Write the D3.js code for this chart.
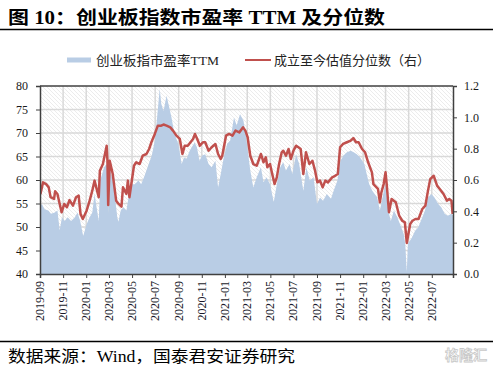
<!DOCTYPE html>
<html><head><meta charset="utf-8">
<script src="https://cdn.jsdelivr.net/npm/d3@7"></script>
<style>body{margin:0;background:#fff}svg{display:block}</style>
</head><body><svg id="c" width="493" height="369"></svg>
<script>
const titleText = "图 10：创业板指数市盈率 TTM 及分位数";
const legendNames = ["创业板指市盈率TTM", "成立至今估值分位数（右）"];
const sourceText = "数据来源：Wind，国泰君安证券研究";
const xTickLabels = ["2019-09","2019-11","2020-01","2020-03","2020-05","2020-07","2020-09","2020-11","2021-01","2021-03","2021-05","2021-07","2021-09","2021-11","2022-01","2022-03","2022-05","2022-07"];
const leftTicks = [40,45,50,55,60,65,70,75,80];
const rightTicks = [0,0.2,0.4,0.6,0.8,1.0,1.2];

const peDates = ["2019-09-02","2019-09-06","2019-09-13","2019-09-23","2019-09-30","2019-10-10","2019-10-17","2019-10-23","2019-10-29","2019-11-05","2019-11-13","2019-11-22","2019-12-02","2019-12-09","2019-12-16","2019-12-24",
"2020-01-02","2020-01-10","2020-01-17","2020-01-23","2020-02-03","2020-02-07","2020-02-17","2020-02-24","2020-02-26","2020-02-28","2020-03-03","2020-03-13","2020-03-23","2020-03-26","2020-04-01","2020-04-08","2020-04-16","2020-04-23","2020-04-30","2020-05-08","2020-05-18","2020-05-25","2020-06-03","2020-06-12","2020-06-22","2020-06-30","2020-07-06","2020-07-13","2020-07-17","2020-07-23","2020-07-31","2020-08-07","2020-08-13","2020-08-21","2020-08-31","2020-09-09","2020-09-15","2020-09-22","2020-09-30","2020-10-13","2020-10-19","2020-10-26","2020-11-02","2020-11-10","2020-11-19","2020-11-27","2020-12-07","2020-12-14","2020-12-21","2020-12-29",
"2021-01-07","2021-01-15","2021-01-25","2021-02-01","2021-02-10","2021-02-19","2021-02-26","2021-03-09","2021-03-17","2021-03-26","2021-04-06","2021-04-13","2021-04-21","2021-04-30","2021-05-10","2021-05-18","2021-05-27","2021-06-04","2021-06-11","2021-06-21","2021-06-28","2021-07-08","2021-07-16","2021-07-27","2021-08-04","2021-08-13","2021-08-23","2021-09-01","2021-09-09","2021-09-17","2021-09-27","2021-10-08","2021-10-15","2021-10-25","2021-11-02","2021-11-10","2021-11-19","2021-11-29","2021-12-07","2021-12-15","2021-12-24",
"2022-01-04","2022-01-11","2022-01-17","2022-01-25","2022-02-07","2022-02-14","2022-02-21","2022-02-28","2022-03-08","2022-03-15","2022-03-23","2022-04-01","2022-04-11","2022-04-18","2022-04-22","2022-04-26","2022-04-29","2022-05-10","2022-05-18","2022-05-26","2022-06-06","2022-06-13","2022-06-21","2022-06-30","2022-07-08","2022-07-18","2022-07-26","2022-08-04","2022-08-12","2022-08-22","2022-08-26"];
const peValues = [54.5,54.9,53.8,53.5,52.8,53.1,53.5,49.3,52.1,51.3,52.1,51.3,52.1,53.1,51.3,48.1,
50.6,52.1,53.1,57.0,51.3,59.9,62.7,63.4,62.0,52.8,62.7,59.1,52.1,51.1,53.5,54.2,53.5,57.0,59.1,59.1,59.9,59.1,60.9,63.0,65.2,68.4,73.3,79.4,76.2,74.7,77.9,75.5,73.3,69.8,67.7,63.4,64.8,64.5,66.2,68.0,67.0,64.1,65.2,65.5,63.4,62.7,64.1,58.4,61.3,64.8,
67.7,68.4,73.3,71.6,74.0,72.6,69.1,62.0,58.4,60.6,62.7,59.5,60.6,59.1,55.3,59.1,62.7,63.8,62.0,63.4,61.3,65.5,63.4,57.7,62.7,59.9,60.6,54.9,56.3,55.6,57.0,56.0,57.7,59.9,64.1,65.2,65.9,66.2,65.9,65.5,64.8,
63.4,61.0,59.1,57.7,56.3,53.5,56.3,59.1,53.5,51.3,53.5,52.1,50.0,48.5,46.4,40.4,46.4,47.8,49.2,49.9,52.1,53.5,56.3,57.0,56.3,54.9,54.2,52.8,52.4,52.8,52.5];

const pctDates = ["2019-09-02","2019-09-09","2019-09-17","2019-09-24","2019-09-29","2019-10-08","2019-10-11","2019-10-17","2019-10-23","2019-10-28","2019-11-04","2019-11-11","2019-11-18","2019-11-27","2019-12-05","2019-12-12","2019-12-17","2019-12-23",
"2020-01-02","2020-01-10","2020-01-17","2020-01-23","2020-02-03","2020-02-06","2020-02-14","2020-02-24","2020-02-26","2020-02-28","2020-03-03","2020-03-11","2020-03-20","2020-03-25","2020-04-03","2020-04-07","2020-04-16","2020-04-20","2020-04-24","2020-05-06","2020-05-12","2020-05-21","2020-05-29","2020-06-08","2020-06-15","2020-06-21","2020-06-30","2020-07-08","2020-07-17","2020-07-23","2020-07-31","2020-08-10","2020-08-17","2020-08-26","2020-09-04","2020-09-11","2020-09-17","2020-09-25","2020-10-09","2020-10-14","2020-10-20","2020-10-27","2020-11-04","2020-11-10","2020-11-19","2020-11-27","2020-12-07","2020-12-14","2020-12-21","2020-12-25",
"2021-01-04","2021-01-12","2021-01-21","2021-01-29","2021-02-08","2021-02-18","2021-02-24","2021-03-02","2021-03-09","2021-03-17","2021-03-26","2021-04-06","2021-04-13","2021-04-19","2021-04-23","2021-04-30","2021-05-07","2021-05-12","2021-05-18","2021-05-24","2021-05-31","2021-06-04","2021-06-11","2021-06-18","2021-06-24","2021-07-01","2021-07-08","2021-07-14","2021-07-20","2021-07-27","2021-08-03","2021-08-12","2021-08-20","2021-08-27","2021-09-02","2021-09-09","2021-09-16","2021-09-23","2021-09-30","2021-10-11","2021-10-19","2021-10-26","2021-11-01","2021-11-09","2021-11-19","2021-11-29","2021-12-06","2021-12-13","2021-12-20","2021-12-29",
"2022-01-06","2022-01-14","2022-01-24","2022-01-28","2022-02-09","2022-02-14","2022-02-18","2022-02-24","2022-03-01","2022-03-04","2022-03-10","2022-03-17","2022-03-28","2022-04-06","2022-04-14","2022-04-21","2022-04-26","2022-05-05","2022-05-11","2022-05-19","2022-05-27","2022-06-06","2022-06-14","2022-06-21","2022-06-27","2022-07-06","2022-07-15","2022-07-22","2022-08-01","2022-08-10","2022-08-16","2022-08-22","2022-08-25"];
const pctValues = [0.51,0.585,0.574,0.553,0.49,0.479,0.528,0.511,0.447,0.394,0.447,0.426,0.472,0.436,0.49,0.50,0.383,0.351,
0.404,0.468,0.532,0.596,0.49,0.659,0.702,0.819,0.723,0.44,0.723,0.638,0.468,0.451,0.43,0.553,0.511,0.596,0.49,0.691,0.713,0.702,0.755,0.766,0.798,0.841,0.894,0.947,0.947,0.954,0.947,0.936,0.915,0.883,0.862,0.766,0.819,0.819,0.862,0.894,0.862,0.819,0.841,0.841,0.787,0.809,0.83,0.766,0.734,0.755,
0.883,0.894,0.883,0.915,0.904,0.936,0.915,0.873,0.755,0.702,0.691,0.766,0.713,0.745,0.681,0.702,0.627,0.574,0.617,0.702,0.777,0.787,0.755,0.798,0.734,0.787,0.819,0.809,0.798,0.638,0.777,0.702,0.723,0.659,0.585,0.596,0.553,0.596,0.585,0.617,0.627,0.638,0.809,0.83,0.841,0.851,0.868,0.841,0.841,0.798,
0.777,0.713,0.649,0.574,0.543,0.458,0.521,0.574,0.649,0.574,0.394,0.479,0.458,0.372,0.34,0.33,0.198,0.319,0.34,0.351,0.351,0.415,0.436,0.532,0.606,0.627,0.564,0.543,0.511,0.468,0.479,0.468,0.383];

const parse = d3.timeParse("%Y-%m-%d");
const pe = peDates.map((d,i)=>({date:parse(d), v:peValues[i]}));
const pct = pctDates.map((d,i)=>({date:parse(d), v:pctValues[i]}));

const svg = d3.select("#c");
const L = 40, R = 453, T = 86, B = 274;
const serif = "'Liberation Serif','Times New Roman',serif";
const cjk = "'Liberation Serif','Noto Sans CJK SC',serif";

const x = d3.scaleTime().domain([parse("2019-09-01"), parse("2022-08-26")]).range([L, R]);
const yL = d3.scaleLinear().domain([40,80]).range([B, T]);
const yR = d3.scaleLinear().domain([0,1.2]).range([B, T]);
const tickDates = xTickLabels.map(s => d3.timeParse("%Y-%m")(s));

// hatch pattern
const defs = svg.append("defs");
const pat = defs.append("pattern").attr("id","hatch").attr("patternUnits","userSpaceOnUse")
  .attr("width",4).attr("height",4);
pat.append("path").attr("d","M-1,-1 L5,5 M-1,3 L1,5 M3,-1 L5,1").attr("stroke","#ececec").attr("stroke-width",1);
defs.append("clipPath").attr("id","clip").append("rect").attr("x",L).attr("y",T).attr("width",R-L).attr("height",B-T);

// title
svg.append("text").attr("x",8).attr("y",24).attr("font-family","'Liberation Serif','Noto Sans CJK SC',serif")
  .attr("font-weight","bold").attr("font-size",18).attr("fill","#000")
  .attr("textLength",377).attr("lengthAdjust","spacingAndGlyphs").text(titleText);
svg.append("line").attr("x1",0).attr("x2",493).attr("y1",29.5).attr("y2",29.5).attr("stroke","#000").attr("stroke-width",1.3);

// legend
svg.append("rect").attr("x",67).attr("y",57.5).attr("width",24).attr("height",5).attr("fill","#b9cde5");
svg.append("text").attr("x",96).attr("y",65).attr("font-family",cjk).attr("font-size",13).attr("fill","#222")
  .attr("textLength",123).attr("lengthAdjust","spacingAndGlyphs").text(legendNames[0]);
svg.append("line").attr("x1",245).attr("x2",271).attr("y1",60).attr("y2",60).attr("stroke","#c0504d").attr("stroke-width",2);
svg.append("text").attr("x",274).attr("y",65).attr("font-family",cjk).attr("font-size",13).attr("fill","#222")
  .attr("textLength",156).attr("lengthAdjust","spacingAndGlyphs").text(legendNames[1]);

// background
svg.append("rect").attr("x",L).attr("y",T).attr("width",R-L).attr("height",B-T).attr("fill","url(#hatch)");

// grid
svg.append("g").selectAll("line").data(leftTicks.filter(v=>v>40&&v<80)).join("line")
  .attr("x1",L).attr("x2",R).attr("y1",d=>yL(d)).attr("y2",d=>yL(d))
  .attr("stroke","#d9d9d9").attr("stroke-width",1.5);
svg.append("g").selectAll("line").data(tickDates.slice(1)).join("line")
  .attr("x1",d=>x(d)).attr("x2",d=>x(d)).attr("y1",T).attr("y2",B)
  .attr("stroke","#d9d9d9").attr("stroke-width",1.5);

// area + line
const g = svg.append("g").attr("clip-path","url(#clip)");
g.append("path").datum(pe).attr("fill","#b9cde5")
  .attr("d", d3.area().x(d=>x(d.date)).y0(B).y1(d=>yL(d.v)));
g.append("path").datum(pct).attr("fill","none").attr("stroke","#c0504d").attr("stroke-width",2.5)
  .attr("stroke-linejoin","round")
  .attr("d", d3.line().x(d=>x(d.date)).y(d=>yR(d.v)));

// axes
const axisColor = "#404040";
const ax = svg.append("g").attr("transform",`translate(0,${B})`)
  .call(d3.axisBottom(x).tickValues(tickDates).tickSize(4).tickFormat(""));
ax.select(".domain").attr("stroke",axisColor).attr("stroke-width",1.5);
ax.selectAll(".tick line").attr("stroke",axisColor);
svg.append("g").selectAll("text").data(tickDates).join("text")
  .attr("transform",(d)=>`translate(${x(d)+4},281) rotate(-90)`)
  .attr("text-anchor","end").attr("font-family",serif).attr("font-size",12).attr("fill","#1a1a2a")
  .text((d,i)=>xTickLabels[i]);

const al = svg.append("g").attr("transform",`translate(${L},0)`)
  .call(d3.axisLeft(yL).tickValues(leftTicks).tickSize(4).tickPadding(8).tickFormat(d3.format("d")));
al.select(".domain").attr("stroke",axisColor).attr("stroke-width",1.5);
al.selectAll(".tick line").attr("stroke",axisColor);
al.selectAll("text").attr("font-family",serif).attr("font-size",12).attr("fill","#1a1a1a");

const ar = svg.append("g").attr("transform",`translate(${R},0)`)
  .call(d3.axisRight(yR).tickValues(rightTicks).tickSize(4).tickPadding(7).tickFormat(d3.format(".1f")));
ar.select(".domain").attr("stroke",axisColor).attr("stroke-width",1.5);
ar.selectAll(".tick line").attr("stroke",axisColor);
ar.selectAll("text").attr("font-family",serif).attr("font-size",12).attr("fill","#1a1a1a");

svg.append("line").attr("x1",L).attr("x2",R).attr("y1",T).attr("y2",T).attr("stroke",axisColor).attr("stroke-width",1.5);

// footer
svg.append("line").attr("x1",0).attr("x2",493).attr("y1",341.5).attr("y2",341.5).attr("stroke","#000").attr("stroke-width",1.3);
svg.append("text").attr("x",8).attr("y",362).attr("font-family",cjk).attr("font-size",16).attr("fill","#000")
  .attr("textLength",287).attr("lengthAdjust","spacingAndGlyphs").text(sourceText);
svg.append("text").attr("x",445).attr("y",360).attr("font-family","'Noto Sans CJK SC',sans-serif").attr("font-weight","bold")
  .attr("font-size",14).attr("fill","#fff").attr("stroke","#c8c8c8").attr("stroke-width",0.8).text("格隆汇");
</script></body></html>
